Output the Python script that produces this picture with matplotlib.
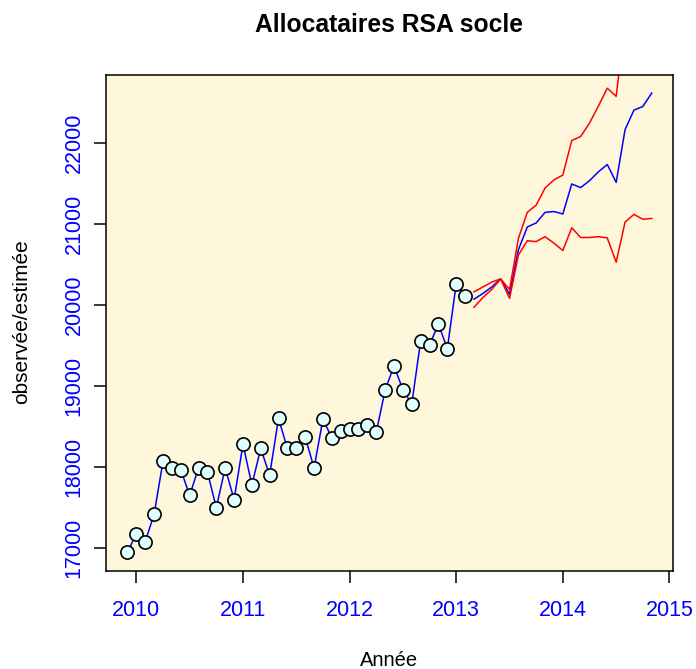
import matplotlib
matplotlib.use("Agg")
import matplotlib.pyplot as plt
import numpy as np

plt.rcParams['font.family'] = ['Liberation Sans', 'DejaVu Sans']

# observed monthly series, from Dec 2009
obs_start = 2009 + 11 / 12
observed = [16950, 17180, 17080, 17420, 18070, 17990, 17970, 17650, 17990, 17940,
            17500, 17990, 17600, 18280, 17780, 18230, 17900, 18600, 18230, 18230,
            18370, 17990, 18590, 18360, 18440, 18470, 18470, 18520, 18430, 18950,
            19250, 18950, 18780, 19560, 19510, 19760, 19460, 20260, 20110]

# forecast from Mar 2013
fc_start = 2013 + 2 / 12
forecast = [20070, 20140, 20220, 20320, 20130, 20680, 20960, 21010, 21140, 21150,
            21120, 21490, 21445, 21530, 21640, 21730, 21510, 22160, 22400, 22445, 22610]
upper = [20160, 20220, 20280, 20320, 20190, 20820, 21140, 21230, 21440, 21540,
         21600, 22025, 22075, 22240, 22450, 22670, 22570, 23490, 23620, 23680, 23850]
lower = [19970, 20090, 20190, 20320, 20080, 20615, 20790, 20780, 20840, 20760,
         20670, 20950, 20830, 20830, 20840, 20825, 20525, 21020, 21115, 21055, 21065]

years = [2010, 2011, 2012, 2013, 2014, 2015]
yticks = [17000, 18000, 19000, 20000, 21000, 22000]

t_obs = obs_start + np.arange(len(observed)) / 12
t_fc = fc_start + np.arange(len(forecast)) / 12

fig = plt.figure(figsize=(6.96, 6.69), dpi=100)
ax = fig.add_axes([0.153, 0.147, 0.8135, 0.7413])
ax.set_facecolor('#FFF7DC')

ax.plot(t_obs, observed, color='blue', lw=1.1, zorder=2)
ax.plot(t_obs, observed, 'o', ms=9.5, mfc='#E0FFFF', mec='black', mew=1.2, zorder=3)
ax.plot(t_fc, forecast, color='blue', lw=1.1, zorder=2)
ax.plot(t_fc, upper, color='red', lw=1.1, zorder=2)
ax.plot(t_fc, lower, color='red', lw=1.1, zorder=2)

# R style axis limits: data range + 4%
x0, x1 = t_obs.min(), t_fc.max()
dx = (x1 - x0) * 0.04
ax.set_xlim(x0 - dx, x1 + dx)
y0, y1 = min(observed + forecast), max(observed + forecast)
dy = (y1 - y0) * 0.04
ax.set_ylim(y0 - dy, y1 + dy)

ax.set_xticks(years)
ax.set_xticklabels([str(y) for y in years], color='blue', fontsize=15.5)
ax.set_yticks(yticks)
ax.set_yticklabels([str(y) for y in yticks], color='blue', fontsize=15.5,
                   rotation=90, va='center')
ax.tick_params(axis='both', direction='out', length=8.6, width=1.1)
ax.tick_params(axis='x', pad=12.5)
ax.tick_params(axis='y', pad=7)
for s in ax.spines.values():
    s.set_linewidth(1.1)

fig.text(389 / 696, 1 - 25 / 669, 'Allocataires RSA socle', ha='center', va='center',
         fontsize=17.7, fontweight='bold')
fig.text(389 / 696, 1 - 660 / 669, 'Année', ha='center', va='center', fontsize=14.5)
fig.text(22 / 696, 1 - 322 / 669, 'observée/estimée', ha='center', va='center',
         fontsize=15, rotation=90)

fig.savefig('out.png', dpi=100)
